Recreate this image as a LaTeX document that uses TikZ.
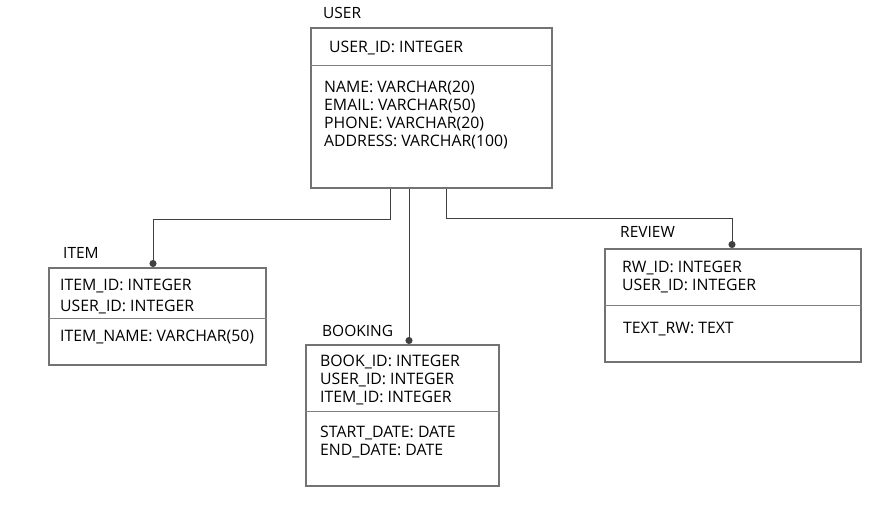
\documentclass[tikz,border=0pt]{standalone}
\usepackage{fontspec}
\setmainfont{Open Sans}
\usetikzlibrary{positioning}
\usetikzlibrary{arrows.meta}

\tikzset{
  entity/.style={draw=gray!90!black,line width=1.5pt,anchor=north west,inner sep=0pt},
  title/.style={inner sep=0pt,anchor=south west,font=\fontsize{15.5}{18}\selectfont},
  attr/.style={inner sep=0pt,anchor=north west,align=left,font=\fontsize{15.8}{18}\selectfont},
  divider/.style={draw=gray,line width=0.8pt},
  link/.style={draw=gray!50!black,line width=1pt,-{Circle[length=7pt]}}
}

\begin{document}
\begin{tikzpicture}[x=1pt,y=-1pt]
  \useasboundingbox (0,0) rectangle (876,504);
  % entities
  \node[entity,minimum width=241pt,minimum height=160pt] (user) at (310,27) {};
  \node[entity,minimum width=217pt,minimum height=97pt] (item) at (48,267) {};
  \node[entity,minimum width=193pt,minimum height=141pt] (booking) at (305,344) {};
  \node[entity,minimum width=256pt,minimum height=113pt] (review) at (604,248) {};
  % titles
  \node[title,above right=8pt and 13pt of user.north west] (usertitle) {USER};
  \node[title,above right=8pt and 15pt of item.north west] (itemtitle) {ITEM};
  \node[title,above right=7pt and 17pt of booking.north west] (bookingtitle) {BOOKING};
  \node[title,above right=10pt and 16pt of review.north west] (reviewtitle) {REVIEW};
  % keys
  \node[attr,below right=14pt and 19pt of user.north west] (userkey) {USER\_ID: INTEGER};
  \node[attr,below right=12pt and 12pt of item.north west] (itemkey) {ITEM\_ID: INTEGER\\[3pt]USER\_ID: INTEGER};
  \node[attr,below right=11pt and 15pt of booking.north west] (bookingkey) {BOOK\_ID: INTEGER\\USER\_ID: INTEGER\\ITEM\_ID: INTEGER};
  \node[attr,below right=13pt and 18pt of review.north west] (reviewkey) {RW\_ID: INTEGER\\USER\_ID: INTEGER};
  % attributes
  \node[attr,below right=54pt and 14pt of user.north west] (userattr) {NAME: VARCHAR(20)\\EMAIL: VARCHAR(50)\\PHONE: VARCHAR(20)\\ADDRESS: VARCHAR(100)};
  \node[attr,below right=63pt and 12pt of item.north west] (itemattr) {ITEM\_NAME: VARCHAR(50)};
  \node[attr,below right=82pt and 15pt of booking.north west] (bookingattr) {START\_DATE: DATE\\END\_DATE: DATE};
  \node[attr,below right=74pt and 19pt of review.north west] (reviewattr) {TEXT\_RW: TEXT};
  % dividers
  \draw[divider] ([yshift=-38pt]user.north west) -- ([yshift=-38pt]user.north east);
  \draw[divider] ([yshift=-51pt]item.north west) -- ([yshift=-51pt]item.north east);
  \draw[divider] ([yshift=-67pt]booking.north west) -- ([yshift=-67pt]booking.north east);
  \draw[divider] ([yshift=-57pt]review.north west) -- ([yshift=-57pt]review.north east);
  % relations
  \draw[link] ([xshift=80pt]user.south west) -- ++(0,31) -| ([xshift=105pt]item.north west);
  \draw[link] ([xshift=99pt]user.south west) -- ([xshift=99pt]user.south west |- booking.north);
  \draw[link] ([xshift=136pt]user.south west) -- ++(0,30) -| ([xshift=128pt]review.north west);
\end{tikzpicture}
\end{document}
